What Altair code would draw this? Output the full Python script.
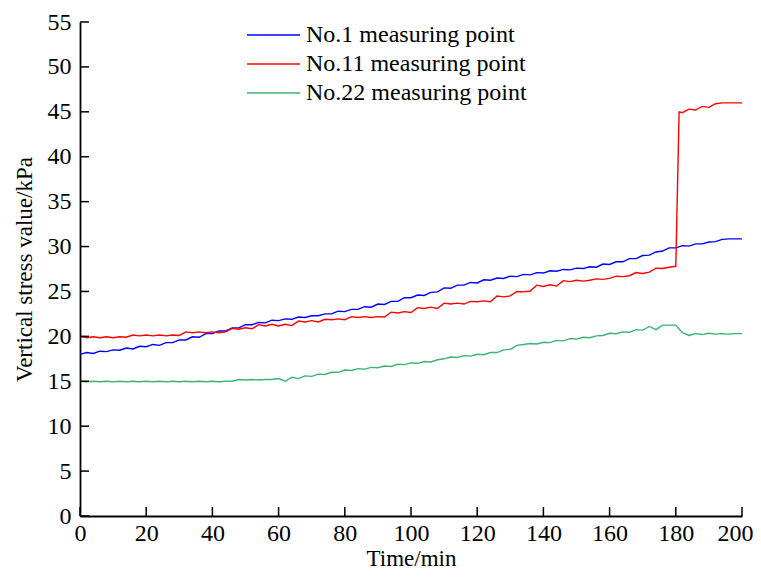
import altair as alt
import pandas as pd

FONT = "Liberation Serif"

series_names = ["No.1 measuring point", "No.11 measuring point", "No.22 measuring point"]
series_colors = ["#0000ff", "#ff0000", "#3cb371"]

t_blue = list(range(0, 201, 2))
v_blue = [18.0, 18.2, 18.1, 18.35, 18.3, 18.5, 18.45, 18.7, 18.6, 18.9,
          18.85, 19.1, 19.0, 19.3, 19.3, 19.6, 19.6, 19.95, 19.9, 20.3,
          20.3, 20.6, 20.6, 20.95, 20.95, 21.3, 21.3, 21.55, 21.5, 21.8,
          21.75, 21.95, 21.9, 22.15, 22.1, 22.3, 22.3, 22.5, 22.5, 22.8,
          22.75, 23.0, 23.0, 23.3, 23.25, 23.6, 23.55, 23.9, 23.9, 24.3,
          24.3, 24.6, 24.55, 24.9, 24.95, 25.4, 25.35, 25.7, 25.7, 26.0,
          25.95, 26.3, 26.25, 26.5, 26.45, 26.7, 26.65, 26.9, 26.85, 27.1,
          27.05, 27.3, 27.25, 27.45, 27.4, 27.6, 27.55, 27.75, 27.7, 28.05,
          28.0, 28.3, 28.3, 28.65, 28.65, 29.0, 29.05, 29.4, 29.5, 29.85,
          29.85, 30.1, 30.05, 30.3, 30.3, 30.5, 30.55, 30.8, 30.85, 30.85,
          30.85]

t_red = list(range(0, 181, 2)) + [181] + list(range(182, 201, 2))
v_red = [20.0, 19.85, 19.95, 19.85, 19.95, 19.85, 19.95, 19.9, 20.15, 20.05,
         20.15, 20.05, 20.15, 20.05, 20.15, 20.1, 20.5, 20.4, 20.5, 20.4,
         20.5, 20.4, 20.5, 20.9, 20.8, 20.95, 20.85, 21.3, 21.15, 21.35,
         21.15, 21.35, 21.2, 21.7, 21.6, 21.75, 21.6, 21.9, 21.85, 21.95,
         21.85, 22.2, 22.1, 22.2, 22.1, 22.2, 22.15, 22.7, 22.6, 22.75,
         22.65, 23.2, 23.1, 23.25, 23.1, 23.7, 23.6, 23.7, 23.6, 23.9,
         23.85, 23.95, 23.85, 24.5, 24.4, 24.5, 25.0, 24.95, 25.05, 25.7,
         25.55, 25.75, 25.6, 26.2, 26.1, 26.25, 26.15, 26.25, 26.4, 26.35,
         26.45, 26.7, 26.65, 26.75, 27.1, 27.0, 27.15, 27.6, 27.55, 27.7,
         27.8,
         45.0,
         44.9, 45.3, 45.2, 45.6, 45.5, 45.9, 46.0, 46.0, 46.0, 46.0]

t_green = list(range(0, 201, 2))
v_green = [15.0, 14.95, 15.0, 14.95, 15.0, 14.95, 15.0, 14.95, 15.0, 14.95,
           15.0, 14.95, 15.0, 14.95, 15.0, 14.95, 15.0, 14.95, 15.0, 14.95,
           15.0, 14.95, 15.0, 15.0, 15.2, 15.15, 15.2, 15.15, 15.2, 15.2,
           15.3, 15.0, 15.45, 15.3, 15.6, 15.55, 15.8, 15.75, 16.0, 16.0,
           16.25, 16.2, 16.4, 16.35, 16.55, 16.5, 16.7, 16.65, 16.9, 16.85,
           17.05, 17.0, 17.2, 17.15, 17.4, 17.5, 17.7, 17.65, 17.85, 17.8,
           18.0, 17.95, 18.2, 18.2, 18.5, 18.55, 19.0, 19.1, 19.2, 19.15,
           19.35, 19.3, 19.55, 19.5, 19.75, 19.7, 19.9, 19.85, 20.05, 20.1,
           20.35, 20.3, 20.5, 20.45, 20.75, 20.7, 21.1, 20.75, 21.25, 21.25,
           21.25, 20.4, 20.1, 20.3, 20.2, 20.35, 20.25, 20.3, 20.25, 20.3,
           20.3]

x_ticks = [0, 20, 40, 60, 80, 100, 120, 140, 160, 180, 200]
y_ticks = [0, 5, 10, 15, 20, 25, 30, 35, 40, 45, 50, 55]

assert len(t_blue) == len(v_blue)
assert len(t_red) == len(v_red)
assert len(t_green) == len(v_green)

rows = []
for name, ts, vs in zip(series_names, [t_blue, t_red, t_green], [v_blue, v_red, v_green]):
    for t, v in zip(ts, vs):
        rows.append({"series": name, "t": t, "v": v})
df = pd.DataFrame(rows)

W, H = 662, 494
xscale = alt.Scale(domain=[0, 200], nice=False, zero=False)
yscale = alt.Scale(domain=[0, 55], nice=False, zero=False)

x_axis = alt.Axis(values=x_ticks, title="Time/min", ticks=False, grid=False,
                  labelFont=FONT, titleFont=FONT, labelFlush=False,
                  labelFontSize=24, titleFontSize=23, labelPadding=5,
                  labelOffset=alt.ExprRef("datum.value == 200 ? -7 : 0"),
                  titlePadding=2, format="d", labelColor="black", titleColor="black",
                  titleFontWeight="normal", domainColor="black", domainWidth=1.8)
y_axis = alt.Axis(values=y_ticks, title="Vertical stress value/kPa", ticks=False,
                  grid=False, labelFont=FONT, titleFont=FONT, labelFlush=False,
                  labelFontSize=24, titleFontSize=23,
                  labelPadding=9, titlePadding=11, format="d", labelColor="black",
                  titleColor="black", titleFontWeight="normal", domainColor="black",
                  domainWidth=1.8)

lines = alt.Chart(df).mark_line(strokeWidth=1.4, interpolate="linear").encode(
    x=alt.X("t:Q", scale=xscale, axis=x_axis),
    y=alt.Y("v:Q", scale=yscale, axis=y_axis),
    color=alt.Color("series:N",
                    scale=alt.Scale(domain=series_names, range=series_colors),
                    sort=series_names,
                    legend=alt.Legend(title=None, orient="none", legendX=166, legendY=0,
                                      symbolType="stroke", symbolSize=2809,
                                      symbolStrokeWidth=1.4, labelFontSize=24,
                                      labelFont=FONT, rowPadding=3, clipHeight=26,
                                      labelOffset=5, labelLimit=400,
                                      labelColor="black")),
    order="t:Q",
)

xt = pd.DataFrame({"t": x_ticks})
yt = pd.DataFrame({"v": y_ticks})

xtick_rules = alt.Chart(xt).mark_rule(color="black", strokeWidth=1.5).encode(
    x=alt.X("t:Q", scale=xscale, axis=x_axis),
    y=alt.value(H), y2=alt.value(H - 9),
)
ytick_rules = alt.Chart(yt).mark_rule(color="black", strokeWidth=1.5).encode(
    y=alt.Y("v:Q", scale=yscale, axis=y_axis),
    x=alt.value(0), x2=alt.value(9),
)

chart = alt.layer(lines, xtick_rules, ytick_rules).properties(
    width=W, height=H,
    autosize=alt.AutoSizeParams(type="none"),
    padding={"left": 72, "top": 14, "right": 11, "bottom": 56},
).configure(
    font=FONT,
).configure_view(
    stroke=None,
)

chart.save("out.html", embed_options={"renderer": "svg", "actions": False})
